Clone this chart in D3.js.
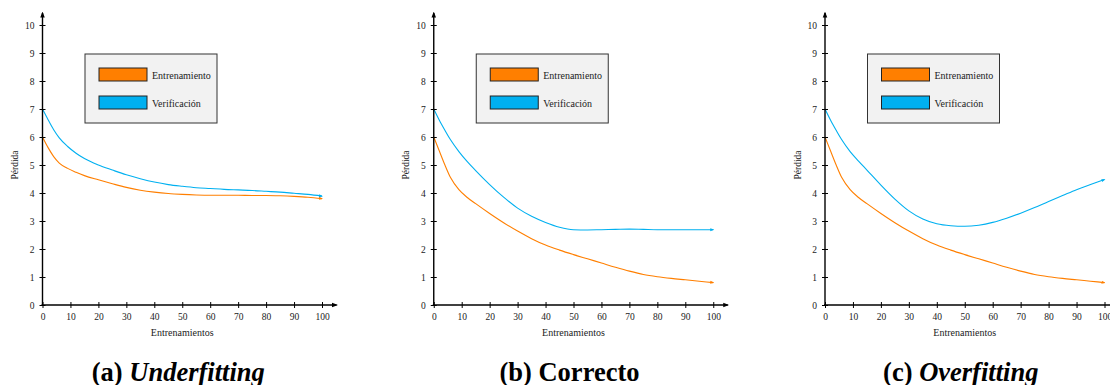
<!DOCTYPE html>
<html>
<head>
<meta charset="utf-8">
<script src="https://cdn.jsdelivr.net/npm/d3@7"></script>
<style>
  body { margin: 0; background: #fff; }
</style>
</head>
<body>
<svg id="chart" width="1110" height="385"></svg>
<script>
// data
const epochs = [0, 2, 4, 6, 9, 12, 15, 20, 25, 30, 35, 40, 45, 50, 55, 60, 65, 70, 75, 80, 85, 90, 95, 100];

const underTrain = [6, 5.62, 5.3, 5.07, 4.88, 4.74, 4.62, 4.47, 4.33, 4.2, 4.1, 4.03, 3.98, 3.95, 3.93, 3.92, 3.92, 3.92, 3.91, 3.91, 3.9, 3.88, 3.85, 3.8];
const underVal   = [7, 6.62, 6.26, 5.97, 5.66, 5.42, 5.23, 5.0, 4.82, 4.65, 4.51, 4.39, 4.3, 4.24, 4.19, 4.16, 4.13, 4.11, 4.09, 4.06, 4.03, 3.99, 3.95, 3.89];

const goodTrain  = [6, 5.5, 5.0, 4.55, 4.12, 3.84, 3.62, 3.27, 2.94, 2.64, 2.37, 2.14, 1.96, 1.8, 1.65, 1.5, 1.35, 1.21, 1.09, 1.01, 0.95, 0.9, 0.85, 0.8];
const goodVal    = [7, 6.6, 6.24, 5.9, 5.48, 5.12, 4.8, 4.3, 3.85, 3.46, 3.17, 2.95, 2.78, 2.69, 2.68, 2.69, 2.7, 2.71, 2.7, 2.69, 2.69, 2.69, 2.69, 2.69];

const overTrain  = goodTrain.slice();
const overVal    = [7, 6.6, 6.24, 5.9, 5.48, 5.14, 4.82, 4.28, 3.78, 3.36, 3.07, 2.9, 2.83, 2.81, 2.85, 2.95, 3.1, 3.28, 3.48, 3.7, 3.91, 4.12, 4.3, 4.48];

const xTicks = [0, 10, 20, 30, 40, 50, 60, 70, 80, 90, 100];
const yTicks = [0, 1, 2, 3, 4, 5, 6, 7, 8, 9, 10];

const seriesNames = ["Entrenamiento", "Verificación"];
const seriesColors = ["#ff7f00", "#00b0f0"];

const panels = [
  { label: "(a) ", name: "Underfitting", italic: true, train: underTrain, val: underVal },
  { label: "(b) ", name: "Correcto", italic: false, train: goodTrain, val: goodVal },
  { label: "(c) ", name: "Overfitting", italic: true, train: overTrain, val: overVal }
];

const serif = "Liberation Serif";
const svg = d3.select("#chart");
const defs = svg.append("defs");

// arrow heads for axes and line ends
defs.append("marker")
  .attr("id", "axisArrow")
  .attr("viewBox", "0 -4 8 8")
  .attr("refX", 6).attr("refY", 0)
  .attr("markerWidth", 6).attr("markerHeight", 6)
  .attr("markerUnits", "userSpaceOnUse")
  .attr("orient", "auto")
  .append("path").attr("d", "M0,-3L8,0L0,3Z").attr("fill", "#000");

seriesColors.forEach((c, i) => {
  defs.append("marker")
    .attr("id", "lineArrow" + i)
    .attr("viewBox", "0 -4 8 8")
    .attr("refX", 6).attr("refY", 0)
    .attr("markerWidth", 4).attr("markerHeight", 4)
    .attr("markerUnits", "userSpaceOnUse")
    .attr("orient", "auto")
    .append("path").attr("d", "M0,-3L8,0L0,3Z").attr("fill", c);
});

const plotW = 279.5;
const y = d3.scaleLinear().domain([0, 10]).range([305, 25]);

panels.forEach((p, i) => {
  const left = 42.5 + i * 391.25;
  const x = d3.scaleLinear().domain([0, 100]).range([left, left + plotW]);
  const g = svg.append("g");

  const line = d3.line()
    .x((d, k) => x(epochs[k]))
    .y(d => y(d))
    .curve(d3.curveMonotoneX);

  [p.train, p.val].forEach((vals, s) => {
    g.append("path")
      .datum(vals)
      .attr("fill", "none")
      .attr("stroke", seriesColors[s])
      .attr("stroke-width", 1.1)
      .attr("marker-end", `url(#lineArrow${s})`)
      .attr("d", line);
  });

  // y axis
  const yAxis = g.append("g")
    .attr("transform", `translate(${left},0)`)
    .call(d3.axisLeft(y).tickValues(yTicks).tickSize(3).tickPadding(5));
  yAxis.select(".domain").remove();
  yAxis.selectAll(".tick line").attr("x1", 3).attr("stroke-width", 1);
  yAxis.selectAll(".tick text")
    .attr("font-size", 9.5)
    .attr("fill", "#222");

  g.append("line")
    .attr("x1", left).attr("x2", left)
    .attr("y1", 306).attr("y2", 13)
    .attr("stroke", "#000").attr("stroke-width", 1.4)
    .attr("marker-end", "url(#axisArrow)");

  // x axis
  const xAxis = g.append("g")
    .attr("transform", "translate(0,305)")
    .call(d3.axisBottom(x).tickValues(xTicks).tickSize(3).tickPadding(5));
  xAxis.select(".domain").remove();
  xAxis.selectAll(".tick line").attr("y1", -3).attr("stroke-width", 1);
  xAxis.selectAll(".tick text")
    .attr("font-size", 9.5)
    .attr("fill", "#222");

  g.append("line")
    .attr("x1", left - 1).attr("x2", left + 294)
    .attr("y1", 305).attr("y2", 305)
    .attr("stroke", "#000").attr("stroke-width", 1.4)
    .attr("marker-end", "url(#axisArrow)");

  // axis titles
  g.append("text")
    .attr("x", left + plotW / 2).attr("y", 336)
    .attr("text-anchor", "middle")
    .attr("font-size", 10)
    .attr("fill", "#222")
    .text("Entrenamientos");

  g.append("text")
    .attr("transform", `translate(${left - 24.5},165) rotate(-90)`)
    .attr("text-anchor", "middle")
    .attr("font-size", 9.5)
    .attr("fill", "#222")
    .text("Pérdida");

  // legend
  const lg = g.append("g").attr("transform", `translate(${left + 42.5},54)`);
  lg.append("rect")
    .attr("width", 132).attr("height", 69)
    .attr("fill", "#f2f2f2")
    .attr("stroke", "#333").attr("stroke-width", 1);
  seriesNames.forEach((n, s) => {
    lg.append("rect")
      .attr("x", 14).attr("y", 14 + s * 28)
      .attr("width", 48).attr("height", 13)
      .attr("fill", seriesColors[s])
      .attr("stroke", "#222").attr("stroke-width", 1);
    lg.append("text")
      .attr("x", 67).attr("y", 24.5 + s * 28)
      .attr("font-size", 10)
      .attr("fill", "#222")
      .text(n);
  });

  // panel caption
  const t = g.append("text")
    .attr("x", left + plotW / 2 - 4).attr("y", 381)
    .attr("text-anchor", "middle")
    .attr("font-size", 26.5)
    .attr("font-weight", "bold")
    .attr("fill", "#000");
  t.append("tspan").text(p.label);
  t.append("tspan").attr("font-style", p.italic ? "italic" : "normal").text(p.name);
});

// every text in serif, set directly on each element
svg.selectAll("g").attr("font-family", null);
svg.selectAll("text, tspan").style("font-family", serif);
</script>
</body>
</html>
